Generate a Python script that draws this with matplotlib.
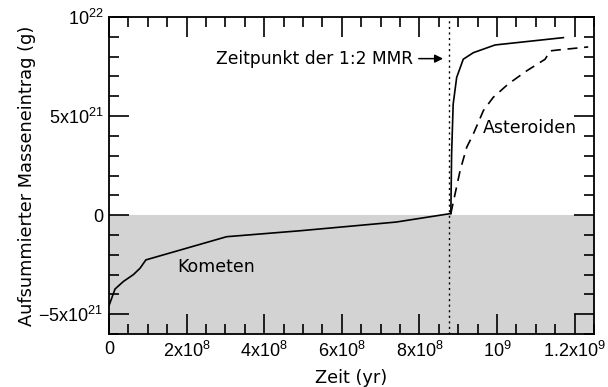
import matplotlib
matplotlib.use("Agg")
import matplotlib.pyplot as plt
from matplotlib.ticker import MultipleLocator, FixedLocator

plt.rcParams['mathtext.fontset'] = 'custom'
plt.rcParams['mathtext.rm'] = 'Liberation Sans'
plt.rcParams['mathtext.it'] = 'Liberation Sans:italic'

# cumulative mass delivery (g) vs time (yr)
t_kometen = [0, 0.155e8, 0.37e8, 0.63e8, 0.8e8, 0.95e8, 3.03e8, 4.92e8, 7.4e8, 8.81e8]
m_kometen = [-4.57e21, -3.73e21, -3.35e21, -3.0e21, -2.68e21, -2.26e21, -1.09e21, -0.79e21, -0.35e21, 0.08e21]

t_ast_solid = [8.81e8, 8.83e8, 8.87e8, 8.96e8, 9.13e8, 9.39e8, 9.95e8, 1.171e9]
m_ast_solid = [0.08e21, 3.1e21, 5.6e21, 6.95e21, 7.87e21, 8.2e21, 8.59e21, 8.96e21]

t_ast_dash = [8.81e8, 9.05e8, 9.22e8, 9.39e8, 9.65e8, 9.9e8, 1.029e9, 1.077e9, 1.124e9, 1.137e9, 1.154e9, 1.235e9]
m_ast_dash = [0.08e21, 2.26e21, 3.43e21, 4.1e21, 5.28e21, 5.94e21, 6.62e21, 7.29e21, 7.87e21, 8.29e21, 8.33e21, 8.49e21]

t_mmr = 8.77e8

xticks = [0, 2e8, 4e8, 6e8, 8e8, 1e9, 1.2e9]
xticklabels = ['0', r'$\mathregular{2x10^8}$', r'$\mathregular{4x10^8}$', r'$\mathregular{6x10^8}$',
               r'$\mathregular{8x10^8}$', r'$\mathregular{10^9}$', r'$\mathregular{1.2x10^9}$']
yticks = [-5e21, 0, 5e21, 1e22]
yticklabels = [r'$\mathregular{-5x10^{21}}$', '0', r'$\mathregular{5x10^{21}}$', r'$\mathregular{10^{22}}$']

fig = plt.figure(figsize=(6.08, 3.87), dpi=100)
ax = fig.add_axes([0.1793, 0.137, 0.7977, 0.819])

ax.axhspan(-6e21, 0, color='#d3d3d3', lw=0, zorder=0)
ax.axvline(t_mmr, color='black', lw=1.0, ls=(0, (1.5, 2.5)), zorder=1)

ax.plot(t_kometen, m_kometen, color='black', lw=1.2)
ax.plot(t_ast_solid, m_ast_solid, color='black', lw=1.2)
ax.plot(t_ast_dash, m_ast_dash, color='black', lw=1.2, ls=(0, (6, 4)))

ax.set_xlim(0, 1.25e9)
ax.set_ylim(-6e21, 1e22)

ax.xaxis.set_major_locator(FixedLocator(xticks))
ax.set_xticklabels(xticklabels, fontsize=13, family='Liberation Sans')
ax.xaxis.set_minor_locator(MultipleLocator(5e7))
ax.yaxis.set_major_locator(FixedLocator(yticks))
ax.set_yticklabels(yticklabels, fontsize=13, family='Liberation Sans')
ax.yaxis.set_minor_locator(MultipleLocator(1e21))

ax.tick_params(which='both', direction='in', top=True, right=True, width=1.2)
ax.tick_params(axis='x', which='major', pad=5)
ax.tick_params(axis='y', which='major', pad=4)
ax.tick_params(which='major', length=14.4)
ax.tick_params(which='minor', length=7.2)
for s in ax.spines.values():
    s.set_linewidth(1.3)

ax.set_xlabel('Zeit (yr)', fontsize=12.8, labelpad=6)
ax.set_ylabel('Aufsummierter Masseneintrag (g)', fontsize=12.8, labelpad=2)

ax.annotate('Zeitpunkt der 1:2 MMR', xy=(8.61e8, 7.9e21), xytext=(7.84e8, 7.9e21),
            fontsize=12.3, ha='right', va='center',
            arrowprops=dict(arrowstyle='-|>', color='black', lw=1.1, mutation_scale=12,
                            shrinkA=2, shrinkB=0))
ax.text(9.64e8, 4.4e21, 'Asteroiden', fontsize=12.5, ha='left', va='center')
ax.text(1.75e8, -2.6e21, 'Kometen', fontsize=12.5, ha='left', va='center')

fig.savefig('out.png', dpi=100)
